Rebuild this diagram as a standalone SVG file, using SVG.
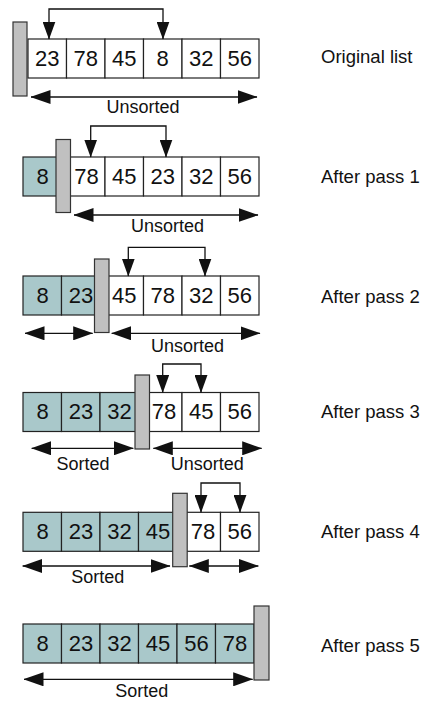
<svg xmlns="http://www.w3.org/2000/svg" width="436" height="702" viewBox="0 0 436 702">
<style>
.cell{fill:#ffffff;stroke:#222;stroke-width:1.2}
.sorted{fill:#a9c8ca;stroke:#222;stroke-width:1.2}
.bar{fill:#c0c0c0;stroke:#333;stroke-width:1.2}
.num{font-family:"Liberation Sans",Arial,Helvetica,sans-serif;font-size:22px;fill:#111;text-anchor:middle}
.lbl{font-family:"Liberation Sans",Arial,Helvetica,sans-serif;font-size:18px;fill:#111;text-anchor:middle}
.title{font-family:"Liberation Sans",Arial,Helvetica,sans-serif;font-size:18.5px;fill:#111}
.swap{fill:none;stroke:#111;stroke-width:1.3;marker-start:url(#down);marker-end:url(#down)}
.span{fill:none;stroke:#111;stroke-width:1.3;marker-start:url(#head);marker-end:url(#head)}
</style>
<defs>
<marker id="down" markerUnits="userSpaceOnUse" markerWidth="18" markerHeight="13" viewBox="0 0 18 13" refX="17.5" refY="6.5" orient="auto-start-reverse"><path d="M0,0 L18,6.5 L0,13 z" fill="#111"/></marker>
<marker id="head" markerUnits="userSpaceOnUse" markerWidth="20" markerHeight="14" viewBox="0 0 20 14" refX="19.5" refY="7" orient="auto-start-reverse"><path d="M0,0 L20,7 L0,14 z" fill="#111"/></marker>
</defs>

<g id="row0">
<rect class="cell" x="28" y="39" width="38.5" height="39"/>
<rect class="cell" x="66.5" y="39" width="38.5" height="39"/>
<rect class="cell" x="105" y="39" width="38.5" height="39"/>
<rect class="cell" x="143.5" y="39" width="38.5" height="39"/>
<rect class="cell" x="182" y="39" width="38.5" height="39"/>
<rect class="cell" x="220.5" y="39" width="38.5" height="39"/>
<rect class="bar" x="13" y="22" width="14" height="74"/>
<text class="num" x="47.3" y="65.5">23</text>
<text class="num" x="85.8" y="65.5">78</text>
<text class="num" x="124.2" y="65.5">45</text>
<text class="num" x="162.7" y="65.5">8</text>
<text class="num" x="201.2" y="65.5">32</text>
<text class="num" x="239.7" y="65.5">56</text>
<text class="lbl" x="143" y="113">Unsorted</text>
<text class="title" x="321" y="63">Original list</text>
</g>

<g id="row1">
<rect class="sorted" x="23" y="157" width="38.5" height="39"/>
<rect class="cell" x="66.5" y="157" width="38.5" height="39"/>
<rect class="cell" x="105" y="157" width="38.5" height="39"/>
<rect class="cell" x="143.5" y="157" width="38.5" height="39"/>
<rect class="cell" x="182" y="157" width="38.5" height="39"/>
<rect class="cell" x="220.5" y="157" width="38.5" height="39"/>
<rect class="bar" x="56" y="139.5" width="14.5" height="73"/>
<text class="num" x="42.5" y="183.5">8</text>
<text class="num" x="86.5" y="183.5">78</text>
<text class="num" x="124.2" y="183.5">45</text>
<text class="num" x="162.7" y="183.5">23</text>
<text class="num" x="201.2" y="183.5">32</text>
<text class="num" x="239.7" y="183.5">56</text>
<text class="lbl" x="167.5" y="231.5">Unsorted</text>
<text class="title" x="321" y="183">After pass 1</text>
</g>

<g id="row2">
<rect class="sorted" x="23" y="276" width="38.5" height="39"/>
<rect class="sorted" x="61.5" y="276" width="38.5" height="39"/>
<rect class="cell" x="105" y="276" width="38.5" height="39"/>
<rect class="cell" x="143.5" y="276" width="38.5" height="39"/>
<rect class="cell" x="182" y="276" width="38.5" height="39"/>
<rect class="cell" x="220.5" y="276" width="38.5" height="39"/>
<rect class="bar" x="94.5" y="259" width="14.5" height="73.5"/>
<text class="num" x="42.5" y="302.5">8</text>
<text class="num" x="81" y="302.5">23</text>
<text class="num" x="124.2" y="302.5">45</text>
<text class="num" x="162.7" y="302.5">78</text>
<text class="num" x="201.2" y="302.5">32</text>
<text class="num" x="239.7" y="302.5">56</text>
<text class="lbl" x="187.5" y="351.5">Unsorted</text>
<text class="title" x="321" y="303">After pass 2</text>
</g>

<g id="row3">
<rect class="sorted" x="23" y="392.5" width="38.5" height="39"/>
<rect class="sorted" x="61.5" y="392.5" width="38.5" height="39"/>
<rect class="sorted" x="100" y="392.5" width="38.5" height="39"/>
<rect class="cell" x="143.5" y="392.5" width="38.5" height="39"/>
<rect class="cell" x="182" y="392.5" width="38.5" height="39"/>
<rect class="cell" x="220.5" y="392.5" width="38.5" height="39"/>
<rect class="bar" x="135" y="375" width="14.5" height="74"/>
<text class="num" x="42.5" y="419">8</text>
<text class="num" x="81" y="419">23</text>
<text class="num" x="119.5" y="419">32</text>
<text class="num" x="164" y="419">78</text>
<text class="num" x="201.2" y="419">45</text>
<text class="num" x="239.7" y="419">56</text>
<text class="lbl" x="83" y="469.5">Sorted</text>
<text class="lbl" x="207.3" y="469.5">Unsorted</text>
<text class="title" x="321" y="418">After pass 3</text>
</g>

<g id="row4">
<rect class="sorted" x="23" y="512.3" width="38.5" height="39"/>
<rect class="sorted" x="61.5" y="512.3" width="38.5" height="39"/>
<rect class="sorted" x="100" y="512.3" width="38.5" height="39"/>
<rect class="sorted" x="138.5" y="512.3" width="38.5" height="39"/>
<rect class="cell" x="182" y="512.3" width="38.5" height="39"/>
<rect class="cell" x="220.5" y="512.3" width="38.5" height="39"/>
<rect class="bar" x="172.7" y="493.3" width="14.5" height="73.4"/>
<text class="num" x="42.5" y="539">8</text>
<text class="num" x="81" y="539">23</text>
<text class="num" x="119.5" y="539">32</text>
<text class="num" x="158" y="539">45</text>
<text class="num" x="203" y="539">78</text>
<text class="num" x="239.7" y="539">56</text>
<text class="lbl" x="97.8" y="583.3">Sorted</text>
<text class="title" x="321" y="538">After pass 4</text>
</g>

<g id="row5">
<rect class="sorted" x="23" y="624" width="38.5" height="39"/>
<rect class="sorted" x="61.5" y="624" width="38.5" height="39"/>
<rect class="sorted" x="100" y="624" width="38.5" height="39"/>
<rect class="sorted" x="138.5" y="624" width="38.5" height="39"/>
<rect class="sorted" x="177" y="624" width="38.5" height="39"/>
<rect class="sorted" x="215.5" y="624" width="38.5" height="39"/>
<rect class="bar" x="254" y="606" width="15" height="74"/>
<text class="num" x="42.5" y="651">8</text>
<text class="num" x="81" y="651">23</text>
<text class="num" x="119.5" y="651">32</text>
<text class="num" x="158" y="651">45</text>
<text class="num" x="196.5" y="651">56</text>
<text class="num" x="235" y="651">78</text>
<text class="lbl" x="141.7" y="697">Sorted</text>
<text class="title" x="321" y="652">After pass 5</text>
</g>

<g id="connectors">
<path class="swap" d="M49,39 V9 H163 V39"/>
<path class="span" d="M31,97 H257"/>
<path class="swap" d="M90.7,157 V126 H166 V157"/>
<path class="span" d="M74,215 H258"/>
<path class="swap" d="M128.3,276 V247.3 H205 V276"/>
<path class="span" d="M25,333.3 H92.7"/>
<path class="span" d="M111.7,333.3 H260"/>
<path class="swap" d="M162.7,392.5 V364 H201 V392.5"/>
<path class="span" d="M31.7,448.3 H133.3"/>
<path class="span" d="M153.3,448.3 H261.7"/>
<path class="swap" d="M201,512.3 V483 H240 V512.3"/>
<path class="span" d="M22.7,566 H170"/>
<path class="span" d="M189.3,566 H258.3"/>
<path class="span" d="M24,679.3 H252.7"/>
</g>
</svg>
